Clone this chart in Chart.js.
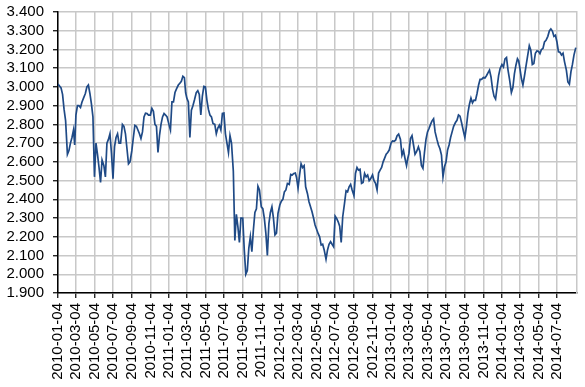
<!DOCTYPE html>
<html>
<head>
<meta charset="utf-8">
<script src="https://cdn.jsdelivr.net/npm/chart.js@4.4.1/dist/chart.umd.min.js"></script>
<style>
  html, body { margin: 0; padding: 0; background: #fff; }
  #wrap { width: 585px; height: 387px; }
</style>
</head>
<body>
<div id="wrap"><canvas id="chart" width="585" height="387"></canvas></div>
<script>
"use strict";

// ===== DATA (~6 samples per month) =====
const dates = [
    '2010-01-04','2010-01-09','2010-01-14','2010-01-19','2010-01-24','2010-01-29',
    '2010-02-04','2010-02-09','2010-02-14','2010-02-19','2010-02-24','2010-02-28',
    '2010-03-04','2010-03-09','2010-03-14','2010-03-19','2010-03-24','2010-03-29',
    '2010-04-04','2010-04-09','2010-04-14','2010-04-19','2010-04-24','2010-04-29',
    '2010-05-04','2010-05-09','2010-05-14','2010-05-19','2010-05-24','2010-05-29',
    '2010-06-04','2010-06-09','2010-06-14','2010-06-19','2010-06-24','2010-06-29',
    '2010-07-04','2010-07-09','2010-07-14','2010-07-19','2010-07-24','2010-07-29',
    '2010-08-04','2010-08-09','2010-08-14','2010-08-19','2010-08-24','2010-08-29',
    '2010-09-04','2010-09-09','2010-09-14','2010-09-19','2010-09-24','2010-09-29',
    '2010-10-04','2010-10-09','2010-10-14','2010-10-19','2010-10-24','2010-10-29',
    '2010-11-04','2010-11-09','2010-11-14','2010-11-19','2010-11-24','2010-11-29',
    '2010-12-04','2010-12-09','2010-12-14','2010-12-19','2010-12-24','2010-12-29',
    '2011-01-04','2011-01-09','2011-01-14','2011-01-19','2011-01-24','2011-01-29',
    '2011-02-04','2011-02-09','2011-02-14','2011-02-19','2011-02-24','2011-02-28',
    '2011-03-04','2011-03-09','2011-03-14','2011-03-19','2011-03-24','2011-03-29',
    '2011-04-04','2011-04-09','2011-04-14','2011-04-19','2011-04-24','2011-04-29',
    '2011-05-04','2011-05-09','2011-05-14','2011-05-19','2011-05-24','2011-05-29',
    '2011-06-04','2011-06-09','2011-06-14','2011-06-19','2011-06-24','2011-06-29',
    '2011-07-04','2011-07-09','2011-07-14','2011-07-19','2011-07-24','2011-07-29',
    '2011-08-04','2011-08-09','2011-08-14','2011-08-19','2011-08-24','2011-08-29',
    '2011-09-04','2011-09-09','2011-09-14','2011-09-19','2011-09-24','2011-09-29',
    '2011-10-04','2011-10-09','2011-10-14','2011-10-19','2011-10-24','2011-10-29',
    '2011-11-04','2011-11-09','2011-11-14','2011-11-19','2011-11-24','2011-11-29',
    '2011-12-04','2011-12-09','2011-12-14','2011-12-19','2011-12-24','2011-12-29',
    '2012-01-04','2012-01-09','2012-01-14','2012-01-19','2012-01-24','2012-01-29',
    '2012-02-04','2012-02-09','2012-02-14','2012-02-19','2012-02-24','2012-02-28',
    '2012-03-04','2012-03-09','2012-03-14','2012-03-19','2012-03-24','2012-03-29',
    '2012-04-04','2012-04-09','2012-04-14','2012-04-19','2012-04-24','2012-04-29',
    '2012-05-04','2012-05-09','2012-05-14','2012-05-19','2012-05-24','2012-05-29',
    '2012-06-04','2012-06-09','2012-06-14','2012-06-19','2012-06-24','2012-06-29',
    '2012-07-04','2012-07-09','2012-07-14','2012-07-19','2012-07-24','2012-07-29',
    '2012-08-04','2012-08-09','2012-08-14','2012-08-19','2012-08-24','2012-08-29',
    '2012-09-04','2012-09-09','2012-09-14','2012-09-19','2012-09-24','2012-09-29',
    '2012-10-04','2012-10-09','2012-10-14','2012-10-19','2012-10-24','2012-10-29',
    '2012-11-04','2012-11-09','2012-11-14','2012-11-19','2012-11-24','2012-11-29',
    '2012-12-04','2012-12-09','2012-12-14','2012-12-19','2012-12-24','2012-12-29',
    '2013-01-04','2013-01-09','2013-01-14','2013-01-19','2013-01-24','2013-01-29',
    '2013-02-04','2013-02-09','2013-02-14','2013-02-19','2013-02-24','2013-02-28',
    '2013-03-04','2013-03-09','2013-03-14','2013-03-19','2013-03-24','2013-03-29',
    '2013-04-04','2013-04-09','2013-04-14','2013-04-19','2013-04-24','2013-04-29',
    '2013-05-04','2013-05-09','2013-05-14','2013-05-19','2013-05-24','2013-05-29',
    '2013-06-04','2013-06-09','2013-06-14','2013-06-19','2013-06-24','2013-06-29',
    '2013-07-04','2013-07-09','2013-07-14','2013-07-19','2013-07-24','2013-07-29',
    '2013-08-04','2013-08-09','2013-08-14','2013-08-19','2013-08-24','2013-08-29',
    '2013-09-04','2013-09-09','2013-09-14','2013-09-19','2013-09-24','2013-09-29',
    '2013-10-04','2013-10-09','2013-10-14','2013-10-19','2013-10-24','2013-10-29',
    '2013-11-04','2013-11-09','2013-11-14','2013-11-19','2013-11-24','2013-11-29',
    '2013-12-04','2013-12-09','2013-12-14','2013-12-19','2013-12-24','2013-12-29',
    '2014-01-04','2014-01-09','2014-01-14','2014-01-19','2014-01-24','2014-01-29',
    '2014-02-04','2014-02-09','2014-02-14','2014-02-19','2014-02-24','2014-02-28',
    '2014-03-04','2014-03-09','2014-03-14','2014-03-19','2014-03-24','2014-03-29',
    '2014-04-04','2014-04-09','2014-04-14','2014-04-19','2014-04-24','2014-04-29',
    '2014-05-04','2014-05-09','2014-05-14','2014-05-19','2014-05-24','2014-05-29',
    '2014-06-04','2014-06-09','2014-06-14','2014-06-19','2014-06-24','2014-06-29',
    '2014-07-04','2014-07-09','2014-07-14','2014-07-19','2014-07-24','2014-07-29',
    '2014-08-04','2014-08-09','2014-08-14','2014-08-19','2014-08-24','2014-08-29',
    '2014-09-04'
];

const values = [
    3.015, 3.005, 2.995, 2.96, 2.88, 2.82,      // 2010-01
    2.64, 2.66, 2.70, 2.73, 2.77, 2.69,
    2.85, 2.90, 2.90, 2.89, 2.92, 2.94,
    2.965, 3.00, 3.01, 2.965, 2.91, 2.84,
    2.52, 2.70, 2.64, 2.57, 2.49, 2.61,
    2.58, 2.52, 2.70, 2.72, 2.75, 2.645,
    2.51, 2.68, 2.73, 2.75, 2.70, 2.70,
    2.80, 2.79, 2.75, 2.67, 2.59, 2.60,
    2.66, 2.73, 2.795, 2.79, 2.77, 2.75,
    2.725, 2.76, 2.84, 2.86, 2.858, 2.85,
    2.85, 2.885, 2.87, 2.80, 2.79, 2.65,
    2.74, 2.80, 2.84, 2.858, 2.85, 2.84,
    2.80, 2.77, 2.92, 2.92, 2.97, 2.99,         // 2011-01
    3.01, 3.02, 3.03, 3.057, 3.05, 2.97,
    2.94, 2.92, 2.73, 2.876, 2.90, 2.93,
    2.97, 2.98, 2.96, 2.85, 2.95, 3.003,
    3.00, 2.93, 2.88, 2.85, 2.84, 2.805,
    2.80, 2.75, 2.78, 2.796, 2.77, 2.858,
    2.86, 2.75, 2.70, 2.65, 2.74, 2.70,
    2.55, 2.18, 2.32, 2.254, 2.17, 2.30,
    2.30, 2.13, 2.00, 2.02, 2.14, 2.20,
    2.12, 2.236, 2.33, 2.35, 2.47, 2.45,
    2.36, 2.35, 2.30, 2.22, 2.10, 2.27,
    2.33, 2.36, 2.30, 2.21, 2.22, 2.325,
    2.37, 2.39, 2.40, 2.44, 2.45, 2.485,        // 2012-01
    2.48, 2.533, 2.53, 2.538, 2.54, 2.517,
    2.46, 2.53, 2.59, 2.57, 2.58, 2.467,
    2.43, 2.387, 2.36, 2.334, 2.30, 2.263,
    2.24, 2.218, 2.20, 2.156, 2.16, 2.13,
    2.08, 2.13, 2.16, 2.174, 2.16, 2.147,
    2.31, 2.298, 2.28, 2.257, 2.17, 2.307,
    2.38, 2.446, 2.44, 2.467, 2.48, 2.45,
    2.42, 2.538, 2.57, 2.556, 2.56, 2.485,
    2.49, 2.538, 2.52, 2.53, 2.50, 2.51,
    2.53, 2.50, 2.485, 2.45, 2.54, 2.556,
    2.57, 2.60, 2.62, 2.641, 2.65, 2.663,
    2.70, 2.712, 2.71, 2.716, 2.74, 2.748,      // 2013-01
    2.72, 2.636, 2.66, 2.618, 2.58, 2.618,
    2.645, 2.725, 2.74, 2.69, 2.64, 2.654,
    2.68, 2.654, 2.58, 2.565, 2.65, 2.72,
    2.76, 2.778, 2.80, 2.819, 2.83, 2.76,
    2.72, 2.69, 2.67, 2.636, 2.52, 2.574,
    2.60, 2.663, 2.69, 2.73, 2.76, 2.79,
    2.81, 2.822, 2.85, 2.844, 2.81, 2.773,
    2.73, 2.787, 2.86, 2.908, 2.94, 2.915,
    2.93, 2.929, 2.965, 3.009, 3.04, 3.04,
    3.05, 3.048, 3.06, 3.075, 3.09, 3.053,
    2.99, 2.95, 2.935, 2.997, 3.06, 3.098,
    3.12, 3.107, 3.15, 3.157, 3.09, 3.04,       // 2014-01
    2.97, 2.997, 3.07, 3.116, 3.15, 3.139,
    3.10, 3.045, 3.01, 3.057, 3.11, 3.16,
    3.22, 3.196, 3.12, 3.125, 3.18, 3.192,
    3.19, 3.178, 3.20, 3.205, 3.24, 3.249,
    3.27, 3.299, 3.31, 3.298, 3.27, 3.276,
    3.24, 3.187, 3.185, 3.17, 3.18, 3.134,
    3.09, 3.027, 3.015, 3.08, 3.12, 3.17,
    3.21
];

const tickLabels = [
    '2010-01-04','2010-03-04','2010-05-04','2010-07-04','2010-09-04','2010-11-04',
    '2011-01-04','2011-03-04','2011-05-04','2011-07-04','2011-09-04','2011-11-04',
    '2012-01-04','2012-03-04','2012-05-04','2012-07-04','2012-09-04','2012-11-04',
    '2013-01-04','2013-03-04','2013-05-04','2013-07-04','2013-09-04','2013-11-04',
    '2014-01-04','2014-03-04','2014-05-04','2014-07-04'
];

const axisStart = '2010-01-04';
const axisEnd = '2014-09-08';
const yMin = 1.9;
const yMax = 3.4;
const yStep = 0.1;

// ===== HELPERS =====
function dayNum(s) {
    return (Date.parse(s) - Date.parse(axisStart)) / 86400000;
}

const FONT = { family: '"Liberation Sans", Arial, sans-serif', size: 15 };
const GRID = '#c8c8c8';

document.addEventListener('DOMContentLoaded', () => {
    const points = dates.map((d, i) => ({ x: dayNum(d), y: values[i] }));

    new Chart(document.getElementById('chart'), {
        type: 'line',
        data: {
            datasets: [{
                data: points,
                borderColor: '#1f4a86',
                borderWidth: 1.7,
                pointRadius: 0,
                tension: 0,
                fill: false
            }]
        },
        options: {
            responsive: false,
            devicePixelRatio: 1,
            animation: false,
            layout: { padding: { top: 12, right: 8, left: 0, bottom: 0 } },
            plugins: { legend: { display: false }, tooltip: { enabled: false } },
            scales: {
                x: {
                    type: 'linear',
                    min: 0,
                    max: dayNum(axisEnd),
                    afterBuildTicks: (scale) => {
                        scale.ticks = tickLabels.map(t => ({ value: dayNum(t) }));
                    },
                    afterFit: (scale) => { scale.height = 94; },
                    ticks: {
                        autoSkip: false,
                        minRotation: 90,
                        maxRotation: 90,
                        padding: 5,
                        color: '#000',
                        font: FONT,
                        callback: (v, i) => tickLabels[i]
                    },
                    grid: { color: GRID, lineWidth: 1.5, tickColor: '#000', tickLength: 5, tickWidth: 1.2 },
                    border: { color: '#000', width: 1.5 }
                },
                y: {
                    min: yMin,
                    max: yMax,
                    afterFit: (scale) => {
                        scale.width = 58;
                        scale.paddingTop = 0;
                        scale.paddingBottom = 0;
                    },
                    ticks: {
                        autoSkip: false,
                        stepSize: yStep,
                        padding: 9,
                        color: '#000',
                        font: FONT,
                        callback: (v) => Number(v).toFixed(3)
                    },
                    grid: { color: GRID, lineWidth: 1.5, tickColor: '#000', tickLength: 5, tickWidth: 1.2 },
                    border: { color: '#000', width: 1.5 }
                },
                // right edge of the plot frame
                y2: {
                    position: 'right',
                    min: yMin,
                    max: yMax,
                    afterFit: (scale) => {
                        scale.width = 0;
                        scale.paddingTop = 0;
                        scale.paddingBottom = 0;
                    },
                    ticks: { display: false },
                    grid: { display: false, drawTicks: false },
                    border: { color: GRID, width: 1.5 }
                }
            }
        }
    });
});
</script>
</body>
</html>
